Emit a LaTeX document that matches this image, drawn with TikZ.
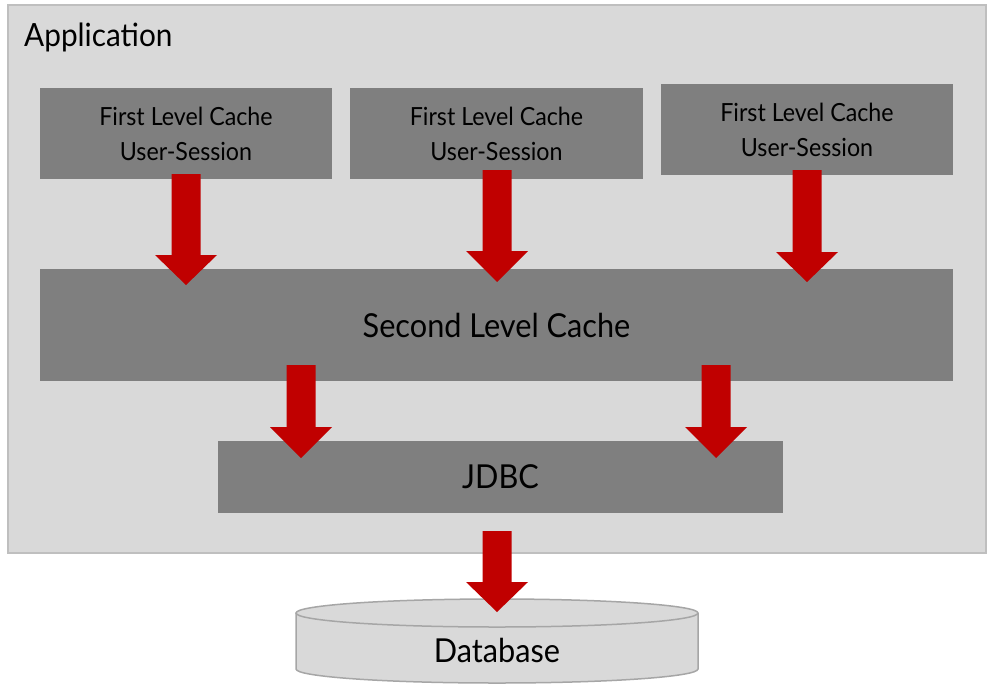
\documentclass[tikz,border=0pt]{standalone}
\usepackage{fontspec}
\setmainfont{Lato}[FakeStretch=0.93]
\definecolor{appfill}{HTML}{D9D9D9}
\definecolor{appline}{HTML}{BFBFBF}
\definecolor{boxfill}{HTML}{7F7F7F}
\definecolor{arrowred}{HTML}{C00000}
\definecolor{dbline}{HTML}{A6A6A6}
\tikzset{
  appbox/.style={draw=appline, line width=1.5pt, fill=appfill, inner sep=0pt, minimum width=978pt, minimum height=548pt},
  cachebox/.style={fill=boxfill, inner sep=0pt, align=center, text=black},
  redarrow/.style={fill=arrowred},
  smalltext/.style={font=\fontsize{25}{35}\selectfont},
  bigtext/.style={font=\fontsize{33}{38}\selectfont}
}
\newcommand\blkarrow[4]{%
  \fill[redarrow] ({#1-14.5},#2) -- ({#1+14.5},#2) -- ({#1+14.5},#3) -- ({#1+31},#3) -- (#1,#4) -- ({#1-31},#3) -- ({#1-14.5},#3) -- cycle;}
\begin{document}
\begin{tikzpicture}[x=1pt,y=-1pt]
\useasboundingbox (0,0) rectangle (987,694);
\fill[white] (0,0) rectangle (987,694);
\node[appbox] (app) at (497,279) {};
\node[anchor=base west, inner sep=0pt, font=\fontsize{32}{36}\selectfont] (applabel) at (24,46) {Application};
% first level caches
\node[cachebox, smalltext, minimum width=292pt, minimum height=91pt] (fl1) at (186,133.5) {First Level Cache\\User-Session};
\node[cachebox, smalltext, minimum width=293pt, minimum height=91pt] (fl2) at (496.5,133.5) {First Level Cache\\User-Session};
\node[cachebox, smalltext, minimum width=292pt, minimum height=91pt] (fl3) at (807,129.5) {First Level Cache\\User-Session};
% second level
\node[cachebox, bigtext, minimum width=913pt, minimum height=112pt] (sl) at (496.5,325) {Second Level Cache};
% jdbc
\node[cachebox, bigtext, minimum width=565pt, minimum height=72pt] (jdbc) at (500.5,477) {JDBC};
% database cylinder
\fill[appfill] (497,669) ellipse [x radius=201pt, y radius=14pt];
\fill[appfill] (296,613) rectangle (698,669);
\draw[dbline, line width=1.5pt] (296,613) -- (296,669) arc[start angle=180, end angle=360, x radius=201pt, y radius=14pt] -- (698,613);
\filldraw[draw=dbline, fill=appfill, line width=1.5pt] (497,613) ellipse [x radius=201pt, y radius=14pt];
\node[bigtext] (db) at (497,650) {Database};
% arrows
\blkarrow{186}{174}{255}{285}
\blkarrow{497}{170}{251}{282}
\blkarrow{807}{170}{252}{282}
\blkarrow{301}{365}{427}{458}
\blkarrow{716}{365}{427}{458}
\blkarrow{497}{531}{582}{612}
\end{tikzpicture}
\end{document}
